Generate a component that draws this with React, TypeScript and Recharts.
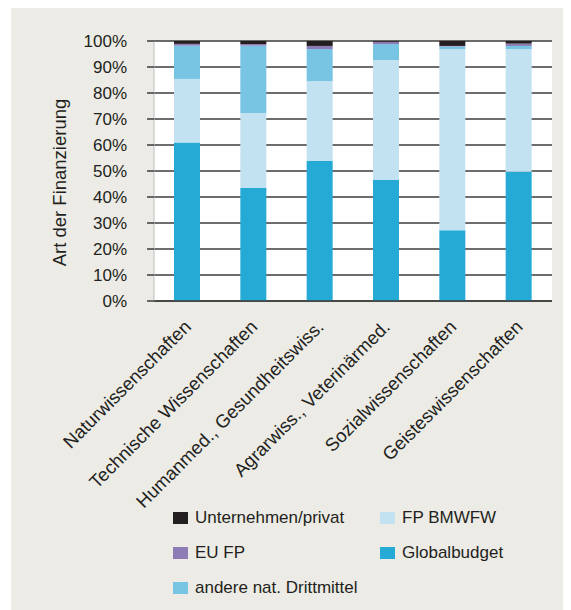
import { BarChart, Bar, XAxis, YAxis, CartesianGrid } from 'recharts'

const categories = [
  'Naturwissenschaften',
  'Technische Wissenschaften',
  'Humanmed., Gesundheitswiss.',
  'Agrarwiss., Veterinärmed.',
  'Sozialwissenschaften',
  'Geisteswissenschaften',
]

// shares in %, bottom to top of each stack
const globalbudget = [61.0, 43.5, 53.8, 46.5, 27.2, 49.7]
const fpBmwfw = [24.4, 28.8, 30.8, 46.2, 69.7, 47.2]
const andereDrittmittel = [12.8, 25.9, 12.3, 6.1, 1.0, 1.2]
const euFp = [0.7, 0.6, 1.2, 0.9, 0.2, 0.9]
const unternehmen = [1.1, 1.2, 1.9, 0.3, 1.9, 1.0]

const yTicks = [0, 10, 20, 30, 40, 50, 60, 70, 80, 90, 100]
const edgeTicks = [0, 1, 2, 3, 4, 5, 6]

const SERIES = [
  { key: 'global', name: 'Globalbudget', color: '#25aad5' },
  { key: 'fp', name: 'FP BMWFW', color: '#c2e2f1' },
  { key: 'andere', name: 'andere nat. Drittmittel', color: '#78c4e3' },
  { key: 'eu', name: 'EU FP', color: '#8c7bb4' },
  { key: 'untern', name: 'Unternehmen/privat', color: '#231f20' },
]

// legend placement: [series key, column, row]
const LEGEND = [
  ['untern', 0, 0], ['eu', 0, 1], ['andere', 0, 2],
  ['fp', 1, 0], ['global', 1, 1],
] as const

const FONT = "'Liberation Sans', Arial, sans-serif"
const GRID = '#3d3d3d'
const INK = '#231f20'

const data = categories.map((name, i) => ({
  name,
  global: globalbudget[i],
  fp: fpBmwfw[i],
  andere: andereDrittmittel[i],
  eu: euFp[i],
  untern: unternehmen[i],
}))

function CatTick({ x, y, payload }: any) {
  return (
    <g transform={`translate(${x + 5},${y + 27})`}>
      <text textAnchor="end" transform="rotate(-45)" fontSize={18.5} fill={INK} fontFamily={FONT}>
        {payload.value}
      </text>
    </g>
  )
}

export default function App() {
  return (
    <div style={{ marginLeft: 3, width: 560, height: 602, background: '#ecebe5', position: 'relative', fontFamily: FONT }}>
      <BarChart width={560} height={602} data={data} margin={{ top: 33, right: 19, left: 0, bottom: 0 }} barSize={26}>
        <CartesianGrid vertical={false} fill="#ffffff" stroke={GRID} strokeWidth={1.5} />
        <XAxis xAxisId="edge" type="number" domain={[0, 6]} ticks={edgeTicks} allowDataOverflow
          tick={false} tickSize={5} tickLine={{ stroke: GRID }} axisLine={false} height={0} />
        <XAxis xAxisId="cat" dataKey="name" height={309} interval={0} tickLine={false} tickSize={0} tickMargin={0}
          axisLine={{ stroke: GRID, strokeWidth: 1.5 }} tick={<CatTick />} />
        <YAxis width={143} domain={[0, 100]} ticks={yTicks} allowDataOverflow interval={0}
          tickFormatter={v => `${v}%`} tickSize={7} tickMargin={20}
          tickLine={{ stroke: GRID, strokeWidth: 1.5 }} axisLine={{ stroke: '#bdbdbd' }}
          tick={{ fontSize: 17, fill: INK, fontFamily: FONT }}
          label={{
            content: () => (
              <text x={54.5} y={174.5} transform="rotate(-90 54.5 174.5)" textAnchor="middle"
                fontSize={18.5} fill={INK} fontFamily={FONT}>Art der Finanzierung</text>
            ),
          }} />
        {SERIES.map(s => (
          <Bar key={s.key} xAxisId="cat" dataKey={s.key} name={s.name} stackId="a" fill={s.color} isAnimationActive={false} />
        ))}
      </BarChart>
      {LEGEND.map(([key, col, row]) => {
        const s = SERIES.find(x => x.key === key)!
        return (
          <div key={key} style={{ position: 'absolute', left: col === 0 ? 162 : 369, top: 500 + row * 35, height: 20,
            display: 'flex', alignItems: 'center', fontSize: 17, color: INK }}>
            <span style={{ width: 15, height: 12, background: s.color, marginRight: 7, display: 'inline-block', flexShrink: 0 }} />
            <span>{s.name}</span>
          </div>
        )
      })}
    </div>
  )
}
